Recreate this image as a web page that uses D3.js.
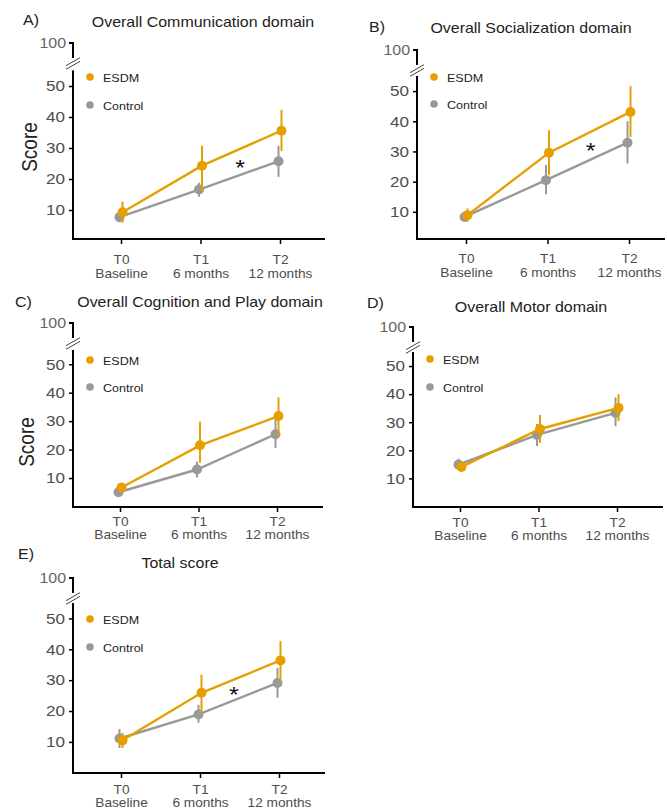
<!DOCTYPE html>
<html>
<head>
<meta charset="utf-8">
<script src="https://cdn.jsdelivr.net/npm/d3@7"></script>
<style>
  html, body { margin: 0; padding: 0; background: #fff; }
  svg { display: block; font-family: "Liberation Sans", Arial, Helvetica, sans-serif; }
</style>
</head>
<body>
<svg id="chart" width="667" height="810"></svg>
<script>
// ---------------- DATA ----------------
const panelTags = ["A)", "B)", "C)", "D)", "E)"];
const titles = ["Overall Communication domain", "Overall Socialization domain",
  "Overall Cognition and Play domain", "Overall Motor domain", "Total score"];
const timepoints = ["T0", "T1", "T2"];
const timeSubLabels = ["Baseline", "6 months", "12 months"];
const yTicks = [10, 20, 30, 40, 50];
const yBreakTick = [100];
const seriesNames = ["ESDM", "Control"];

const esdmMean = [[9.3, 24.3, 35.6], [8.9, 29.6, 43.1], [6.7, 21.5, 31.8], [14.1, 27.6, 35.1], [10.5, 25.9, 36.4]];
const esdmLow  = [[5.9, 16.0, 29.0], [6.7, 22.2, 34.8], [5.8, 15.4, 24.5], [12.4, 22.7, 30.4], [8.0, 19.5, 29.7]];
const esdmHigh = [[12.7, 30.7, 42.3], [11.1, 37.0, 51.6], [7.8, 29.8, 38.3], [15.9, 32.6, 40.0], [12.9, 31.8, 42.7]];

const ctrlMean = [[7.7, 16.6, 25.7], [8.3, 20.5, 32.9], [5.0, 13.0, 25.4], [14.9, 25.5, 33.3], [11.1, 18.9, 29.1]];
const ctrlLow  = [[6.4, 14.3, 20.7], [7.3, 15.8, 26.0], [4.0, 10.2, 20.6], [13.0, 21.5, 28.6], [8.0, 16.2, 24.3]];
const ctrlHigh = [[9.0, 18.8, 30.7], [9.3, 25.5, 40.0], [6.0, 15.7, 30.9], [17.0, 29.4, 38.8], [14.2, 22.0, 34.0]];

// significance markers: [time position, score]
const sigMarks = [[1.5, 25.6], [1.53, 32.0], null, null, [1.43, 27.0]];

// ---------------- LAYOUT ----------------
const layout = [
  { axisX: 73,  zeroY: 241,    top55: 70.5, hundredY: 43,  xAxisY: 239, xT0: 121, xT2: 280, xEnd: 325, xLab: [25, 39], title: [203, 27],  tag: [23, 25],  legY: [77, 105],  score: [37, 147] },
  { axisX: 417, zeroY: 242,    top55: 76,   hundredY: 50,  xAxisY: 239, xT0: 466, xT2: 629, xEnd: 665, xLab: [24, 38], title: [531, 33],  tag: [369, 32], legY: [77, 104],  score: null },
  { axisX: 73,  zeroY: 506.5,  top55: 350,  hundredY: 323, xAxisY: 507, xT0: 120, xT2: 277, xEnd: 323, xLab: [19, 32], title: [200, 307], tag: [15, 307], legY: [360, 387], score: [34, 442] },
  { axisX: 413, zeroY: 506.5,  top55: 352,  hundredY: 327, xAxisY: 507, xT0: 460, xT2: 617, xEnd: 663, xLab: [20, 33], title: [531, 312], tag: [367, 308], legY: [359, 387], score: null },
  { axisX: 73,  zeroY: 772.75, top55: 603,  hundredY: 578, xAxisY: 773, xT0: 121, xT2: 279, xEnd: 325, xLab: [21, 34], title: [180, 568], tag: [18, 559], legY: [619, 647], score: null }
];

const SX = 1.14;            // horizontal stretch of the source image's text
const colESDM = "#E69F00";
const colCtrl = "#999999";
const colors = [colESDM, colCtrl];

const svg = d3.select("#chart");

function stretchText(g, x, y, s) {
  return g.append("text")
    .attr("transform", `translate(${x},${y}) scale(${SX},1)`)
    .text(s);
}

layout.forEach((L, i) => {
  const g = svg.append("g");

  const y = d3.scaleLinear().domain([0, 55]).range([L.zeroY, L.top55]);
  const yUp = d3.scaleLinear().domain([95, 100]).range([L.hundredY + 15, L.hundredY]);
  const x = d3.scaleLinear().domain([0, 2]).range([L.xT0, L.xT2]);

  // ---- y axis (lower segment) ----
  const yAx = g.append("g").attr("transform", `translate(${L.axisX},0)`)
    .call(d3.axisLeft(y).tickValues(yTicks).tickSize(4).tickPadding(4));
  yAx.select(".domain").remove();
  yAx.selectAll(".tick line").attr("stroke", "#000").attr("stroke-width", 1.5);
  yAx.selectAll(".tick text")
    .attr("font-size", 15).attr("fill", "#4d4d4d")
    .attr("transform", `scale(${SX},1)`)
    .attr("x", -8 / SX);
  g.append("path")
    .attr("d", `M${L.axisX},${L.top55}V${L.xAxisY + 1}`)
    .attr("fill", "none").attr("stroke", "#000").attr("stroke-width", 2);

  // ---- y axis (upper segment with 100) ----
  const yAx2 = g.append("g").attr("transform", `translate(${L.axisX},0)`)
    .call(d3.axisLeft(yUp).tickValues(yBreakTick).tickSize(4).tickPadding(4)
      .tickFormat(d3.format("d")));
  yAx2.select(".domain").remove();
  yAx2.selectAll(".tick line").remove();
  yAx2.selectAll(".tick text")
    .attr("font-size", 14).attr("fill", "#666")
    .attr("transform", `scale(${SX},1)`)
    .attr("x", -7 / SX);
  g.append("path")
    .attr("d", `M${L.axisX - 4},${yUp(100)}H${L.axisX}V${yUp(95)}`)
    .attr("fill", "none").attr("stroke", "#000").attr("stroke-width", 2)
    .attr("stroke-linejoin", "miter");

  // ---- break marks ----
  const cy = L.hundredY + 20.5;
  [-1.8, 1.8].forEach(o => {
    g.append("path")
      .attr("d", `M${L.axisX - 7},${cy + 4 + o}L${L.axisX + 7},${cy - 4 + o}`)
      .attr("fill", "none").attr("stroke", "#444").attr("stroke-width", 1);
  });

  // ---- x axis ----
  const xAx = g.append("g").attr("transform", `translate(0,${L.xAxisY})`)
    .call(d3.axisBottom(x).tickValues([0, 1, 2]).tickSize(5).tickPadding(3)
      .tickFormat(d => timepoints[d]));
  xAx.select(".domain").remove();
  xAx.selectAll(".tick line").attr("stroke", "#000").attr("stroke-width", 1.5);
  xAx.selectAll(".tick text").each(function (d) {
    const t = d3.select(this);
    t.text(null)
      .attr("font-size", 12).attr("fill", "#4d4d4d")
      .attr("transform", `scale(${SX},1)`)
      .attr("y", 0).attr("dy", null);
    t.append("tspan").attr("x", 0).attr("y", L.xLab[0]).text(timepoints[d]);
    t.append("tspan").attr("x", 0).attr("y", L.xLab[1]).text(timeSubLabels[d]);
  });
  g.append("path")
    .attr("d", `M${L.axisX - 1},${L.xAxisY}H${L.xEnd}`)
    .attr("fill", "none").attr("stroke", "#000").attr("stroke-width", 2);

  // ---- series ----
  const series = [
    { name: "Control", color: colCtrl, mean: ctrlMean[i], low: ctrlLow[i], high: ctrlHigh[i], dx: -1.5 },
    { name: "ESDM", color: colESDM, mean: esdmMean[i], low: esdmLow[i], high: esdmHigh[i], dx: 1.5 }
  ];
  const line = d3.line().x(d => x(d.t)).y(d => y(d.v));
  series.forEach(s => {
    const pts = s.mean.map((v, t) => ({ t, v, lo: s.low[t], hi: s.high[t] }));
    const sg = g.append("g").attr("transform", `translate(${s.dx},0)`);
    sg.selectAll("line.err").data(pts).join("line")
      .attr("class", "err")
      .attr("x1", d => x(d.t)).attr("x2", d => x(d.t))
      .attr("y1", d => y(d.lo)).attr("y2", d => y(d.hi))
      .attr("stroke", s.color).attr("stroke-width", 2);
    sg.append("path").datum(pts)
      .attr("d", line).attr("fill", "none")
      .attr("stroke", s.color).attr("stroke-width", 2.4);
    sg.selectAll("circle").data(pts).join("circle")
      .attr("cx", d => x(d.t)).attr("cy", d => y(d.v))
      .attr("r", 5).attr("fill", s.color);
  });

  // ---- legend ----
  seriesNames.forEach((n, k) => {
    g.append("circle")
      .attr("cx", L.axisX + 17).attr("cy", L.legY[k])
      .attr("r", 3.8).attr("fill", colors[k]);
    stretchText(g, L.axisX + 30, L.legY[k] + 4.5, n)
      .attr("font-size", 11).attr("fill", "#222");
  });

  // ---- significance ----
  if (sigMarks[i]) {
    stretchText(g, x(sigMarks[i][0]), y(sigMarks[i][1]) + 13, "*")
      .attr("font-size", 22).attr("fill", "#111").attr("text-anchor", "middle");
  }

  // ---- titles ----
  stretchText(g, L.title[0], L.title[1], titles[i])
    .attr("font-size", 14).attr("fill", "#222").attr("text-anchor", "middle");
  stretchText(g, L.tag[0], L.tag[1], panelTags[i])
    .attr("font-size", 14).attr("fill", "#222");

  if (L.score) {
    g.append("text")
      .attr("transform", `translate(${L.score[0]},${L.score[1]}) rotate(-90) scale(1,${SX})`)
      .attr("text-anchor", "middle")
      .attr("font-size", 19).attr("fill", "#222")
      .text("Score");
  }
});
</script>
</body>
</html>
